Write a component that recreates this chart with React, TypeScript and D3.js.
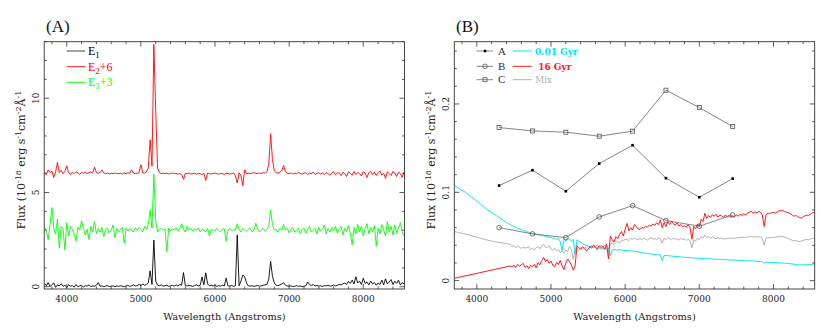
import React, { useRef, useEffect } from 'react';
import * as d3 from 'd3';

const W = 830;
const H = 332;

// wavelength grid of the spectra (Angstroms, 25 A steps)
const waveGrid = d3.range(3700, 8551, 25);

// panel A: emission-line spectra E1, E2, E3 (10^-18 erg/s/cm2/A)
const fluxE1 = [
  0.18, 0.05, 0.22, 0.0, 0.12, 0.2, -0.03, 0.1, 0.04, 0.16,
  0.02, 0.08, -0.04, 0.1, 0.03, 0.06, -0.02, 0.12, 0.0, 0.05,
  0.08, -0.02, 0.06, 0.03, 0.1, 0.0, 0.05, 0.02, 0.08, 0.22,
  0.02, 0.05, 0.0, 0.04, 0.06, 0.01, 0.03, 0.05, 0.0, 0.04,
  0.02, 0.05, 0.03, 0.0, 0.04, 0.08, 0.02, 0.05, 0.1, 0.04,
  0.06, 0.12, 0.05, 0.15, 0.08, 0.12, 0.2, 0.85, 0.12, 2.48,
  0.3, 0.08, 0.05, 0.1, 0.03, 0.06, 0.08, 0.02, 0.05, 0.07,
  0.03, 0.1, 0.04, 0.12, 0.08, 0.75, 0.06, 0.04, 0.08, 0.05,
  0.02, 0.06, 0.1, 0.04, 0.08, 0.52, 0.1, 0.74, 0.15, 0.05,
  0.08, 0.04, 0.1, 0.02, 0.06, 0.03, 0.08, 0.04, 0.46, 0.05,
  0.03, 0.07, 0.02, 0.05, 2.75, 0.05, 0.3, 0.62, 0.53, 0.2,
  0.05, 0.03, 0.06, 0.02, 0.04, 0.07, 0.03, 0.05, 0.08, 0.1,
  0.12, 0.4, 1.35, 0.55, 0.2, 0.08, 0.05, 0.1, 0.15, 0.22,
  0.08, 0.04, 0.02, 0.05, 0.0, 0.03, 0.06, 0.02, 0.04, 0.01,
  0.03, 0.05, 0.25, 0.12, 0.06, 0.12, 0.04, 0.07, 0.03, 0.05,
  0.02, 0.06, 0.04, 0.08, 0.03, 0.05, 0.1, 0.04, 0.07, 0.12,
  0.1, 0.15, 0.2, 0.12, 0.28, 0.18, 0.35, 0.15, 0.53, 0.2,
  0.3, 0.12, 0.45, 0.18, 0.25, 0.1, 0.3, 0.15, 0.22, 0.08,
  0.2, 0.12, 0.35, 0.1, 0.42, 0.15, 0.25, 0.38, 0.12, 0.3,
  0.18, 0.35, 0.1, 0.22, 0.15,
];

const fluxE2 = [
  0.1, -0.05, 0.2, 0.05, 0.15, -0.2, 0.1, 0.6, 0.05, 0.18,
  0.0, 0.12, 0.42, 0.05, -0.05, 0.08, 0.0, 0.1, 0.04, -0.03,
  0.06, 0.02, 0.08, 0.0, 0.05, 0.1, 0.03, 0.35, 0.05, 0.02,
  0.06, 0.2, 0.04, 0.0, 0.03, -0.02, 0.02, 0.0, 0.03, 0.01,
  0.0, 0.02, -0.02, 0.03, 0.0, 0.05, 0.02, 0.2, 0.03, 0.0,
  0.02, 0.05, 0.47, 0.05, 0.03, 0.1, 0.3, 1.8, 0.4, 6.86,
  3.4, 0.3, 0.05, 0.0, 0.03, 0.0, 0.02, -0.02, 0.01, 0.03,
  0.0, 0.02, -0.03, 0.0, -0.05, -0.3, 0.02, 0.0, 0.03, -0.02,
  0.0, 0.02, -0.03, 0.01, 0.0, -0.05, 0.02, -0.36, 0.03, 0.0,
  -0.02, 0.01, 0.03, 0.0, -0.03, 0.02, 0.0, -0.05, 0.03, 0.0,
  -0.02, 0.0, 0.03, -0.1, -0.5, 0.05, -0.1, -0.63, 0.2, 0.0,
  0.02, 0.0, 0.03, 0.05, 0.02, 0.0, 0.03, 0.01, 0.05, 0.03,
  0.1, 0.5, 2.1, 0.74, 0.15, 0.05, 0.02, 0.08, 0.15, 0.44,
  0.1, 0.02, 0.0, 0.04, -0.02, 0.03, 0.0, 0.05, 0.02, -0.03,
  0.02, 0.05, -0.05, 0.03, 0.0, 0.08, -0.04, 0.02, 0.05, -0.02,
  0.03, -0.05, 0.06, 0.0, -0.08, 0.04, 0.1, -0.06, 0.03, 0.05,
  -0.1, 0.08, 0.0, -0.15, 0.1, 0.02, -0.08, 0.12, -0.05, 0.06,
  0.0, -0.12, 0.1, 0.03, -0.2, 0.05, 0.12, -0.05, 0.08, -0.1,
  0.05, 0.15, -0.08, 0.02, -0.25, 0.1, 0.0, -0.1, 0.12, 0.03,
  -0.15, 0.08, 0.0, -0.2, 0.1,
];

const fluxE3 = [
  0.15, 0.0, -0.5, 0.3, 1.2, 0.1, -0.2, 0.57, -0.96, 0.2,
  0.1, -1.05, 0.4, -0.3, 0.2, 0.05, -0.2, -0.58, 0.15, 0.0,
  0.5, 0.1, -0.25, 0.05, -0.5, 0.2, -0.1, 0.48, -0.2, 0.1,
  -0.1, 0.15, -0.34, 0.05, 0.1, -0.15, 0.0, 0.27, -0.4, 0.1,
  -0.1, 0.05, 0.15, -0.69, 0.1, -0.05, 0.08, 0.0, -0.1, 0.12,
  0.0, 0.15, 0.05, -0.1, 0.2, 0.05, 0.3, 1.08, 0.1, 2.98,
  0.5, -0.1, 0.05, 0.1, 0.0, 0.08, -1.14, 0.1, -0.05, 0.08,
  0.0, 0.12, -0.05, 0.1, 0.34, 0.05, -0.1, 0.2, 0.0, 0.1,
  -0.05, 0.08, 0.0, 0.12, -0.1, 0.05, 0.0, -0.08, 0.1, -0.3,
  0.05, 0.0, -0.05, 0.1, 0.0, -0.1, 0.05, 0.08, -0.6, 0.0,
  0.1, -0.05, 0.05, 0.0, 0.34, 0.05, -0.1, 0.1, 0.0, -0.05,
  0.05, 0.1, -0.08, 0.0, 0.37, 0.05, -0.1, 0.0, 0.1, -0.05,
  0.05, 0.2, 1.08, 0.3, 0.0, 0.05, -0.1, 0.1, 0.0, 0.3,
  0.0, 0.1, -0.15, 0.05, 0.15, -0.1, 0.0, 0.12, -0.2, 0.05,
  0.1, -0.15, 0.05, 0.2, -0.1, 0.0, 0.1, -0.2, 0.15, -0.05,
  0.05, 0.28, -0.2, 0.1, -0.1, 0.15, -0.05, 0.2, -0.15, 0.05,
  0.2, -0.25, 0.1, -0.1, 0.25, -0.15, -0.78, 0.15, -0.2, 0.3,
  -0.1, 0.2, -0.3, 0.1, 0.35, -0.2, 0.15, -0.1, 0.25, -0.84,
  0.1, -0.2, 0.3, 0.0, -0.3, 0.46, -0.1, 0.2, -0.25, 0.28,
  -0.15, 0.1, 0.4, -0.1, -0.3,
];

const offsetE2 = 6;
const offsetE3 = 3;

// panel B: model spectra (0.01 Gyr, 16 Gyr, mix)
const fluxYoung = [
  0.1075, 0.106, 0.1047, 0.1033, 0.1022, 0.1012, 0.0998, 0.0982, 0.0965, 0.0948,
  0.0932, 0.0915, 0.0898, 0.0882, 0.0865, 0.0849, 0.0832, 0.0815, 0.0798, 0.0784,
  0.077, 0.0756, 0.0742, 0.0728, 0.0715, 0.0701, 0.0688, 0.0672, 0.0658, 0.0646,
  0.0632, 0.0625, 0.0612, 0.0603, 0.0594, 0.0588, 0.0578, 0.0569, 0.0562, 0.0552,
  0.0548, 0.0538, 0.0534, 0.0528, 0.0525, 0.0519, 0.0518, 0.0512, 0.051, 0.0503,
  0.0498, 0.0492, 0.0485, 0.0478, 0.0482, 0.0465, 0.0478, 0.0442, 0.034, 0.0472,
  0.045, 0.0468, 0.0475, 0.0445, 0.0468, 0.03, 0.0462, 0.0445, 0.0435, 0.042,
  0.0408, 0.0398, 0.039, 0.0385, 0.0388, 0.0378, 0.0382, 0.0372, 0.0368, 0.0365,
  0.0368, 0.036, 0.0355, 0.0362, 0.028, 0.0345, 0.0352, 0.0348, 0.0345, 0.035,
  0.0346, 0.0342, 0.034, 0.0343, 0.0338, 0.0337, 0.0335, 0.0334, 0.033, 0.0327,
  0.0322, 0.0318, 0.0315, 0.031, 0.0308, 0.0305, 0.0302, 0.0298, 0.0296, 0.0294,
  0.0292, 0.029, 0.0225, 0.0282, 0.0285, 0.0282, 0.028, 0.0278, 0.0276, 0.0273,
  0.0272, 0.027, 0.0268, 0.0266, 0.0265, 0.0262, 0.026, 0.026, 0.0258, 0.0257,
  0.0255, 0.0254, 0.0252, 0.0252, 0.025, 0.0249, 0.0248, 0.0247, 0.0246, 0.0245,
  0.0244, 0.0243, 0.0242, 0.0241, 0.024, 0.0238, 0.0237, 0.0236, 0.0235, 0.0234,
  0.0233, 0.0232, 0.0231, 0.023, 0.0229, 0.0228, 0.0227, 0.0226, 0.0225, 0.0224,
  0.0223, 0.0222, 0.0221, 0.022, 0.0218, 0.0216, 0.0214, 0.0197, 0.021, 0.0208,
  0.0207, 0.0206, 0.0205, 0.0204, 0.0202, 0.0201, 0.02, 0.0198, 0.0197, 0.0195,
  0.0193, 0.0191, 0.0189, 0.0186, 0.0183, 0.018, 0.0178, 0.0177, 0.0178, 0.0179,
  0.018, 0.0181, 0.0183, 0.0185, 0.0188,
];

// the old model has no points between 3700 and 4450
const waveOld = [3700, ...d3.range(4450, 8551, 25)];
const fluxOld = [
  0.0027,
  0.0165, 0.0158, 0.0175, 0.0148, 0.0185, 0.0162, 0.0178, 0.0195, 0.0152, 0.0168,
  0.0135, 0.0172, 0.0158, 0.0185, 0.0145, 0.0205, 0.0178, 0.0228, 0.0265, 0.0215,
  0.0238, 0.0195, 0.0222, 0.0172, 0.0158, 0.0205, 0.0182, 0.0228, 0.0165, 0.0125,
  0.0198, 0.0245, 0.0215, 0.0175, 0.0118, 0.0165, 0.0395, 0.0372, 0.0358, 0.0385,
  0.0362, 0.0338, 0.0352, 0.0382, 0.0368, 0.0405, 0.0372, 0.0352, 0.0395, 0.0375,
  0.0392, 0.0355, 0.0415, 0.0245, 0.0505, 0.0462, 0.0438, 0.0498, 0.0475, 0.0525,
  0.0555, 0.0505, 0.0582, 0.0648, 0.0565, 0.0598, 0.0572, 0.0635, 0.0612, 0.0585,
  0.0578, 0.0602, 0.0595, 0.0615, 0.0605, 0.0628, 0.0618, 0.0642, 0.0625, 0.0655,
  0.0632, 0.0688, 0.0598, 0.0655, 0.0612, 0.0665, 0.0635, 0.0672, 0.0645, 0.0628,
  0.0652, 0.0618, 0.0635, 0.0612, 0.0622, 0.0605, 0.0638, 0.0595, 0.0468, 0.0615,
  0.0585, 0.0642, 0.0612, 0.0695, 0.0668, 0.0762, 0.0705, 0.0738, 0.0715, 0.0745,
  0.0728, 0.0752, 0.0718, 0.0742, 0.0735, 0.0712, 0.0745, 0.0725, 0.0738, 0.0715,
  0.0732, 0.0722, 0.0745, 0.0728, 0.0752, 0.0738, 0.0758, 0.0742, 0.0765, 0.0772,
  0.0785, 0.0762, 0.0778, 0.0768, 0.0782, 0.0775, 0.0742, 0.0612, 0.0748, 0.0765,
  0.0758, 0.0768, 0.0772, 0.0765, 0.0778, 0.0792, 0.0788, 0.0795, 0.0782, 0.0775,
  0.0768, 0.0758, 0.0745, 0.0728, 0.0738, 0.0725, 0.0712, 0.0708, 0.0722, 0.0735,
  0.0742, 0.0738, 0.0752, 0.0768, 0.0772,
];

const fluxMix = [
  0.0555, 0.055, 0.0545, 0.0541, 0.0536, 0.0531, 0.0526, 0.0521, 0.0515, 0.051,
  0.0503, 0.0497, 0.0491, 0.0485, 0.048, 0.0474, 0.0468, 0.0462, 0.0457, 0.0452,
  0.0447, 0.0443, 0.0439, 0.0435, 0.0431, 0.0428, 0.0425, 0.0421, 0.0418, 0.0414,
  0.0408, 0.0388, 0.0398, 0.0372, 0.0392, 0.0378, 0.0365, 0.0382, 0.0368, 0.0375,
  0.0385, 0.0352, 0.0368, 0.0345, 0.0372, 0.0385, 0.0362, 0.0395, 0.0408, 0.0382,
  0.0375, 0.0395, 0.0358, 0.0342, 0.0365, 0.0338, 0.0352, 0.0318, 0.0335, 0.0312,
  0.0345, 0.0328, 0.0385, 0.0352, 0.0242, 0.0338, 0.0362, 0.0348, 0.0372, 0.0355,
  0.0382, 0.0365, 0.0392, 0.0378, 0.0395, 0.0372, 0.0388, 0.0402, 0.0385, 0.0398,
  0.0378, 0.0405, 0.0392, 0.0362, 0.0412, 0.0425, 0.0408, 0.0432, 0.0442, 0.0425,
  0.0455, 0.0448, 0.0472, 0.0465, 0.0452, 0.0478, 0.0468, 0.0485, 0.0472, 0.0462,
  0.0478, 0.0465, 0.0482, 0.0472, 0.0458, 0.0475, 0.0488, 0.0468, 0.0478, 0.0462,
  0.0485, 0.0472, 0.0425, 0.0478, 0.0465, 0.0488, 0.0475, 0.0462, 0.0482, 0.0468,
  0.0475, 0.0458, 0.0478, 0.0465, 0.0472, 0.0455, 0.0468, 0.0452, 0.0372, 0.0462,
  0.0448, 0.0478, 0.0465, 0.0495, 0.0482, 0.0512, 0.0488, 0.0502, 0.0478, 0.0495,
  0.0482, 0.0472, 0.0488, 0.0475, 0.0482, 0.0468, 0.0478, 0.0472, 0.0485, 0.0475,
  0.0482, 0.0478, 0.0488, 0.0482, 0.0492, 0.0485, 0.0495, 0.0488, 0.0492, 0.0498,
  0.0502, 0.0495, 0.0498, 0.0492, 0.0498, 0.0495, 0.0478, 0.0402, 0.0482, 0.0488,
  0.0485, 0.0488, 0.0492, 0.0488, 0.0495, 0.0498, 0.0502, 0.0498, 0.0492, 0.0485,
  0.0478, 0.0468, 0.0458, 0.0448, 0.0455, 0.0445, 0.0442, 0.0448, 0.0455, 0.0462,
  0.0465, 0.0462, 0.0472, 0.0478, 0.0482,
];

// panel B: broad-band fluxes of regions A, B, C
const bandWave = [4300, 4750, 5200, 5650, 6100, 6550, 7000, 7450];
const bandA = [0.1076, 0.125, 0.1012, 0.1325, 0.1533, 0.116, 0.0944, 0.1155];
const bandB = [0.06, 0.0529, 0.0487, 0.0721, 0.0849, 0.068, 0.0616, 0.0744];
const bandC = [0.1733, 0.1695, 0.168, 0.1635, 0.1692, 0.2156, 0.1959, 0.1744];

const xMajor = [4000, 5000, 6000, 7000, 8000];
const yMajorA = [0, 5, 10];
const yMajorB = [0, 0.1, 0.2];

const AXF = '"DejaVu Serif", "Liberation Serif", serif';
const SERIF = '"Liberation Serif", "DejaVu Serif", serif';

function App() {
  const svgRef = useRef<SVGSVGElement>(null);

  useEffect(() => {
    const svg = d3.select(svgRef.current);
    svg.selectAll('*').remove();
    svg.append('rect').attr('width', W).attr('height', H).attr('fill', '#fff');

    const top = 41.7;
    const bottom = 289;

    const xA = d3.scaleLinear().domain([3696, 8556]).range([44.2, 404.5]);
    const xB = d3.scaleLinear().domain([3696, 8556]).range([454.3, 814.7]);
    const yA = d3.scaleLinear().domain([-0.12, 13]).range([bottom, top]);
    const yB = d3.scaleLinear().domain([-0.0095, 0.2705]).range([bottom, top]);

    const xMinor = d3.range(3800, 8556, 200).filter((v) => v % 1000 !== 0);
    const yMinorA = d3.range(1, 14).filter((v) => v % 5 !== 0);
    const yMinorB = d3.range(1, 14).filter((k) => k % 5 !== 0).map((k) => k * 0.02);

    // frame, inward ticks on all sides, tick labels
    const drawFrame = (g, x, y, yMajor, yMinor, yFmt) => {
      const [x0, x1] = x.range();
      const [y0, y1] = y.range();
      const tick = (ax, ay, bx, by) =>
        g.append('line').attr('x1', ax).attr('y1', ay).attr('x2', bx).attr('y2', by)
          .attr('stroke', '#333').attr('stroke-width', 0.8);
      xMinor.forEach((v) => { tick(x(v), y0, x(v), y0 - 2.5); tick(x(v), y1, x(v), y1 + 2.5); });
      xMajor.forEach((v) => { tick(x(v), y0, x(v), y0 - 5); tick(x(v), y1, x(v), y1 + 5); });
      yMinor.forEach((v) => { tick(x0, y(v), x0 + 2.5, y(v)); tick(x1, y(v), x1 - 2.5, y(v)); });
      yMajor.forEach((v) => { tick(x0, y(v), x0 + 5, y(v)); tick(x1, y(v), x1 - 5, y(v)); });
      g.append('rect').attr('x', x0).attr('y', y1).attr('width', x1 - x0).attr('height', y0 - y1)
        .attr('fill', 'none').attr('stroke', '#333').attr('stroke-width', 0.9);

      xMajor.forEach((v) => {
        g.append('text').attr('x', x(v)).attr('y', 301.5).attr('text-anchor', 'middle')
          .attr('font-family', AXF).attr('font-size', 9).attr('fill', '#222').text(String(v));
      });
      yMajor.forEach((v) => {
        g.append('text').attr('transform', `translate(${x0 - 5},${y(v)}) rotate(-90)`)
          .attr('text-anchor', 'middle').attr('font-family', AXF).attr('font-size', 9)
          .attr('fill', '#222').text(yFmt(v));
      });

      g.append('text').attr('x', (x0 + x1) / 2).attr('y', 320).attr('text-anchor', 'middle')
        .attr('font-family', AXF).attr('font-size', 9.8).attr('fill', '#222')
        .text('Wavelength (Angstroms)');

      const yt = g.append('text').attr('transform', `translate(${x0 - 19},160) rotate(-90)`)
        .attr('text-anchor', 'middle').attr('font-family', AXF).attr('font-size', 11).attr('fill', '#222');
      const parts = [['Flux (10', 0], ['-18', 1], [' erg s', 0], ['-1', 1], ['cm', 0], ['-2', 1], ['\u00c5', 0], ['-1', 1]];
      let up = false;
      parts.forEach(([s, sup]) => {
        const ts = yt.append('tspan').text(s);
        if (sup) { ts.attr('font-size', 8).attr('dy', up ? 0 : -4.5); up = true; }
        else { ts.attr('dy', up ? 4.5 : 0); up = false; }
      });
    };

    const clip = (id, x, y) => {
      const [x0, x1] = x.range();
      const [y0, y1] = y.range();
      svg.append('clipPath').attr('id', id).append('rect')
        .attr('x', x0).attr('y', y1).attr('width', x1 - x0).attr('height', y0 - y1);
    };

    // ---------- panel A ----------
    const gA = svg.append('g');
    clip('clipA', xA, yA);
    const specA = gA.append('g').attr('clip-path', 'url(#clipA)');
    const lineA = (offset) => d3.line().x((d) => xA(d[0])).y((d) => yA(d[1] + offset));
    const seriesA = [
      [fluxE1, 0, '#000000'],
      [fluxE2, offsetE2, '#ff0000'],
      [fluxE3, offsetE3, '#00ff00'],
    ];
    seriesA.forEach(([vals, off, col]) => {
      specA.append('path').datum(waveGrid.map((w, i) => [w, vals[i]]))
        .attr('fill', 'none').attr('stroke', col).attr('stroke-width', 0.9)
        .attr('stroke-linejoin', 'round').attr('d', lineA(off));
    });
    drawFrame(gA, xA, yA, yMajorA, yMinorA, (v) => String(v));

    gA.append('text').attr('x', 46).attr('y', 32).attr('font-family', SERIF).attr('font-size', 17)
      .attr('fill', '#111').text('(A)');

    const legA = [
      ['E', '1', '', '#333', '#000'],
      ['E', '2', '+6', '#ff0000', '#ff0000'],
      ['E', '3', '+3', '#00ff00', '#00ff00'],
    ];
    legA.forEach(([a, sub, rest, lc, tc], i) => {
      const ly = 51 + i * 15.7;
      gA.append('line').attr('x1', 66.7).attr('x2', 85).attr('y1', ly).attr('y2', ly)
        .attr('stroke', lc).attr('stroke-width', 0.9);
      const t = gA.append('text').attr('x', 88).attr('y', ly + 4).attr('font-family', SERIF)
        .attr('font-size', 12).attr('fill', tc);
      t.append('tspan').text(a);
      t.append('tspan').attr('font-size', 9).attr('dy', 3).text(sub);
      if (rest) t.append('tspan').attr('dy', -3).text(rest);
    });

    // ---------- panel B ----------
    const gB = svg.append('g');
    clip('clipB', xB, yB);
    const specB = gB.append('g').attr('clip-path', 'url(#clipB)');
    const lineB = d3.line().x((d) => xB(d[0])).y((d) => yB(d[1]));
    const seriesB = [
      [waveGrid, fluxMix, '#b0b0b0'],
      [waveGrid, fluxYoung, '#00e8f4'],
      [waveOld, fluxOld, '#ff1a1a'],
    ];
    seriesB.forEach(([ws, vals, col]) => {
      specB.append('path').datum(ws.map((w, i) => [w, vals[i]]))
        .attr('fill', 'none').attr('stroke', col).attr('stroke-width', 1)
        .attr('stroke-linejoin', 'round').attr('d', lineB);
    });

    const marker = (g, kind, cx, cy) => {
      if (kind === 'A') {
        g.append('rect').attr('x', cx - 1.3).attr('y', cy - 1.3).attr('width', 2.6).attr('height', 2.6)
          .attr('fill', '#000');
      } else if (kind === 'B') {
        g.append('circle').attr('cx', cx).attr('cy', cy).attr('r', 2.3)
          .attr('fill', 'none').attr('stroke', '#555').attr('stroke-width', 0.8);
      } else {
        g.append('rect').attr('x', cx - 2).attr('y', cy - 2).attr('width', 4).attr('height', 4)
          .attr('fill', 'none').attr('stroke', '#555').attr('stroke-width', 0.8);
      }
    };

    const bands = [['A', bandA], ['B', bandB], ['C', bandC]];
    bands.forEach(([kind, vals]) => {
      const pts = bandWave.map((w, i) => [w, vals[i]]);
      gB.append('path').datum(pts).attr('fill', 'none').attr('stroke', '#666')
        .attr('stroke-width', 0.8).attr('d', lineB);
      pts.forEach((p) => marker(gB, kind, xB(p[0]), yB(p[1])));
    });

    drawFrame(gB, xB, yB, yMajorB, yMinorB, (v) => (v === 0 ? '0' : d3.format('.1f')(v)));

    gB.append('text').attr('x', 456).attr('y', 32).attr('font-family', SERIF).attr('font-size', 17)
      .attr('fill', '#111').text('(B)');

    const legRowsY = [51, 66.3, 79.7];
    bands.forEach(([kind], i) => {
      const ly = legRowsY[i];
      gB.append('line').attr('x1', 476.7).attr('x2', 493).attr('y1', ly).attr('y2', ly)
        .attr('stroke', '#666').attr('stroke-width', 0.8);
      marker(gB, kind, 485, ly);
      gB.append('text').attr('x', 498).attr('y', ly + 3.5).attr('font-family', SERIF)
        .attr('font-size', 11).attr('fill', '#333').text(kind);
    });
    const legModels = [
      ['0.01 Gyr', '#00e8f4', 'bold'],
      ['\u00a016 Gyr', '#ff1a1a', 'bold'],
      ['Mix', '#b0b0b0', 'normal'],
    ];
    legModels.forEach(([label, col, wt], i) => {
      const ly = legRowsY[i];
      gB.append('line').attr('x1', 512.7).attr('x2', 531.7).attr('y1', ly).attr('y2', ly)
        .attr('stroke', col).attr('stroke-width', 1);
      gB.append('text').attr('x', 535).attr('y', ly + 3.5).attr('font-family', AXF)
        .attr('font-size', 9).attr('font-weight', wt).attr('fill', col).text(label);
    });
  }, []);

  return (
    <svg
      ref={svgRef}
      width={W}
      height={H}
      style={{ position: 'absolute', left: 0, top: 0 }}
      xmlns="http://www.w3.org/2000/svg"
    />
  );
}

export default App;
